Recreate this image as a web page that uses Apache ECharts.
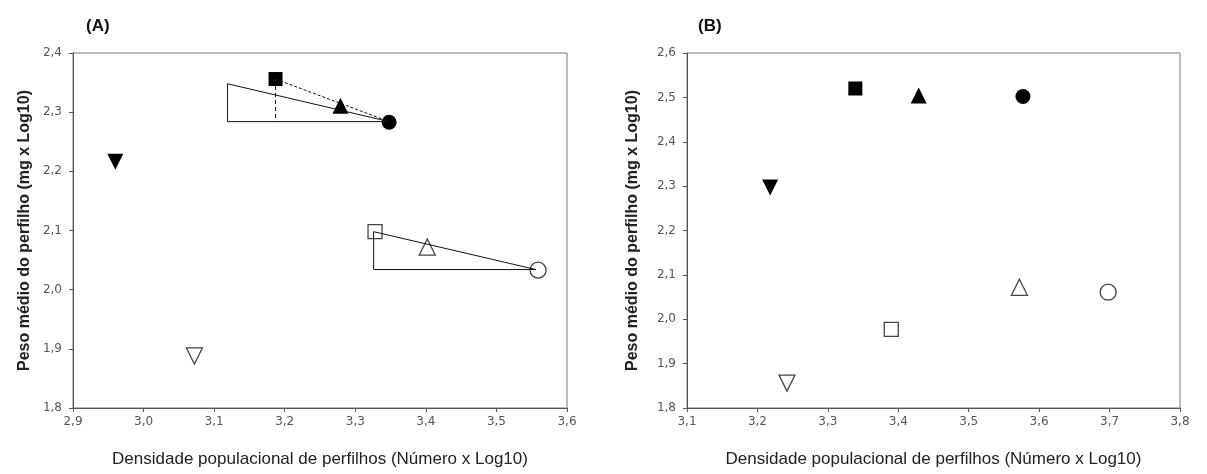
<!DOCTYPE html>
<html>
<head>
<meta charset="utf-8">
<script src="https://cdn.jsdelivr.net/npm/echarts@6/dist/echarts.min.js"></script>
<style>
  html, body { margin: 0; padding: 0; background: #fff; }
  #chart { width: 1207px; height: 474px; }
</style>
</head>
<body>
<div id="chart"></div>
<script>
// painel A - pontos [x, y]
var aFilledSquareA = [[3.187, 2.356]];
var aFilledTriangleA = [[3.279, 2.311]];
var aFilledCircleA = [[3.348, 2.283]];
var aFilledDownA = [[2.960, 2.216]];
var aOpenSquareA = [[3.328, 2.098]];
var aOpenTriangleA = [[3.402, 2.072]];
var aOpenCircleA = [[3.559, 2.033]];
var aOpenDownA = [[3.072, 1.888]];
// triangulos de referencia (linhas)
var aSolidUpperA = [[3.119, 2.348], [3.348, 2.284], [3.119, 2.284], [3.119, 2.348]];
var aDashedSlopeA = [[3.187, 2.356], [3.348, 2.284]];
var aDashedDropA = [[3.187, 2.356], [3.187, 2.284]];
var aSolidLowerA = [[3.326, 2.098], [3.556, 2.034], [3.326, 2.034], [3.326, 2.098]];

// painel B
var aFilledSquareB = [[3.339, 2.520]];
var aFilledTriangleB = [[3.429, 2.504]];
var aFilledCircleB = [[3.577, 2.502]];
var aFilledDownB = [[3.218, 2.297]];
var aOpenSquareB = [[3.390, 1.977]];
var aOpenTriangleB = [[3.572, 2.072]];
var aOpenCircleB = [[3.698, 2.061]];
var aOpenDownB = [[3.242, 1.856]];

var sXName = 'Densidade populacional de perfilhos (Número x Log10)';
var sYName = 'Peso médio do perfilho (mg x Log10)';

function FormatTick(v) {
    return v.toFixed(1).replace('.', ',');
}

function MakeXAxis(iGrid, fMin, fMax) {
    return {
        type: 'value', gridIndex: iGrid, min: fMin, max: fMax, interval: 0.1,
        name: sXName, nameLocation: 'middle', nameGap: 43,
        nameTextStyle: {fontFamily: 'Liberation Sans', fontSize: 17, color: '#222'},
        axisLine: {lineStyle: {color: '#555', width: 1}},
        axisTick: {inside: false, length: 4, lineStyle: {color: '#555'}},
        axisLabel: {formatter: FormatTick, fontFamily: 'DejaVu Sans', fontSize: 12, color: '#555', margin: 8},
        splitLine: {show: false}
    };
}

function MakeYAxis(iGrid, fMin, fMax, iGap) {
    return {
        type: 'value', gridIndex: iGrid, min: fMin, max: fMax, interval: 0.1,
        name: sYName, nameLocation: 'middle', nameGap: iGap,
        nameTextStyle: {fontFamily: 'Liberation Sans', fontSize: 16, fontWeight: 'bold', color: '#222'},
        axisLine: {lineStyle: {color: '#555', width: 1}},
        axisTick: {inside: false, length: 4, lineStyle: {color: '#555'}},
        axisLabel: {formatter: FormatTick, fontFamily: 'DejaVu Sans', fontSize: 12, color: '#555', margin: 11},
        splitLine: {show: false}
    };
}

function Marker(iAxis, aData, sSymbol, bFilled, iSize, iRotate) {
    return {
        type: 'scatter', xAxisIndex: iAxis, yAxisIndex: iAxis, data: aData,
        symbol: sSymbol, symbolSize: iSize, symbolRotate: iRotate || 0, z: 3,
        itemStyle: bFilled ? {color: '#000', opacity: 1} : {color: '#fff', borderColor: '#444', borderWidth: 1.3, opacity: 1},
        emphasis: {disabled: true}
    };
}

function Line(iAxis, aData, sType) {
    return {
        type: 'line', xAxisIndex: iAxis, yAxisIndex: iAxis, data: aData,
        symbol: 'none', z: 4, animation: false,
        lineStyle: {color: '#111', width: 1, type: sType}
    };
}

function GetOption() {
    return {
        animation: false,
        backgroundColor: '#fff',
        title: [
            {text: '(A)', left: 81, top: 13, textStyle: {fontFamily: 'Liberation Sans', fontSize: 17, fontWeight: 'bold', color: '#111'}},
            {text: '(B)', left: 693, top: 13, textStyle: {fontFamily: 'Liberation Sans', fontSize: 17, fontWeight: 'bold', color: '#111'}}
        ],
        grid: [
            {left: 73, top: 53, width: 494, height: 355, show: true, borderColor: '#777', borderWidth: 1},
            {left: 687, top: 53, width: 493, height: 355, show: true, borderColor: '#777', borderWidth: 1}
        ],
        xAxis: [MakeXAxis(0, 2.9, 3.6), MakeXAxis(1, 3.1, 3.8)],
        yAxis: [MakeYAxis(0, 1.8, 2.4, 40), MakeYAxis(1, 1.8, 2.6, 46)],
        series: [
            Line(0, aSolidUpperA, 'solid'),
            Line(0, aDashedSlopeA, [3, 2]),
            Line(0, aDashedDropA, [4, 3]),
            Line(0, aSolidLowerA, 'solid'),
            Marker(0, aFilledSquareA, 'rect', true, 14),
            Marker(0, aFilledTriangleA, 'triangle', true, 16),
            Marker(0, aFilledCircleA, 'circle', true, 15),
            Marker(0, aFilledDownA, 'triangle', true, 16, 180),
            Marker(0, aOpenSquareA, 'rect', false, 14),
            Marker(0, aOpenTriangleA, 'triangle', false, 16),
            Marker(0, aOpenCircleA, 'circle', false, 16),
            Marker(0, aOpenDownA, 'triangle', false, 16, 180),
            Marker(1, aFilledSquareB, 'rect', true, 14),
            Marker(1, aFilledTriangleB, 'triangle', true, 16),
            Marker(1, aFilledCircleB, 'circle', true, 15),
            Marker(1, aFilledDownB, 'triangle', true, 16, 180),
            Marker(1, aOpenSquareB, 'rect', false, 14),
            Marker(1, aOpenTriangleB, 'triangle', false, 16),
            Marker(1, aOpenCircleB, 'circle', false, 16),
            Marker(1, aOpenDownB, 'triangle', false, 16, 180)
        ]
    };
}

var myChart = echarts.init(document.getElementById('chart'));
myChart.setOption(GetOption());
</script>
</body>
</html>
